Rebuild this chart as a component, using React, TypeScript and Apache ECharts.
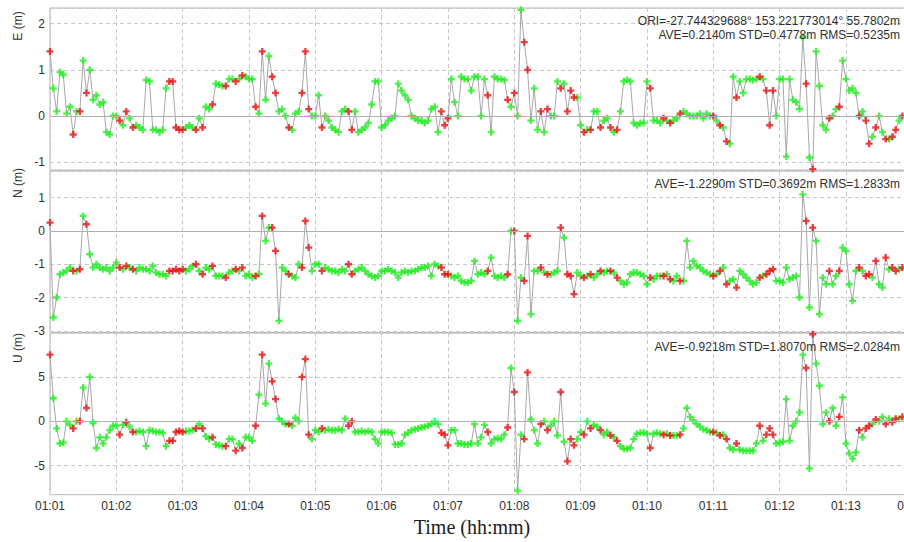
import React, { useEffect, useRef } from "react";
import * as echarts from "echarts";

// Sampling step of the series (seconds since 01:01:00)
const STEP_S = 3;

const X_LABELS = ["01:01", "01:02", "01:03", "01:04", "01:05", "01:06", "01:07", "01:08", "01:09", "01:10", "01:11", "01:12", "01:13", "01:14"];
const E_TICKS = [-1, 0, 1, 2];
const N_TICKS = [-3, -2, -1, 0, 1];
const U_TICKS = [-5, 0, 5];

// East (m)
const E_VALUES = [
  1.4, 0.6, 0.1, 0.95, 0.9, 0.05, 0.2, -0.4, 0.1, 0.1, 1.2, 0.5, 1.0, 0.35, 0.45, 0.25, 0.3, -0.35, -0.4, 0.0,
  0.0, -0.1, -0.2, 0.1, -0.05, -0.25, -0.2, -0.25, -0.3, 0.78, 0.75, -0.3, -0.3, -0.35, -0.3, 0.6, 0.75, 0.75, -0.25, -0.3,
  -0.3, -0.25, -0.2, -0.25, -0.3, -0.05, -0.25, 0.2, 0.15, 0.25, 0.7, 0.68, 0.65, 0.65, 0.8, 0.8, 0.75, 0.8, 0.88, 0.85,
  0.8, 0.8, 0.2, 0.05, 1.4, 0.35, 1.3, 0.85, 0.5, 0.1, 0.15, 0.0, -0.25, -0.3, 0.05, 0.1, 0.5, 1.4, 0.15, 0.0,
  0.0, 0.45, -0.25, 0.0, -0.1, -0.25, -0.3, -0.35, 0.1, 0.15, 0.1, -0.3, 0.1, -0.35, -0.3, -0.25, -0.15, 0.25, 0.75, 0.75,
  -0.25, -0.2, -0.1, -0.05, 0.0, 0.7, 0.55, 0.45, 0.35, 0.0, -0.05, -0.1, -0.1, -0.15, -0.1, 0.15, 0.2, -0.35, 0.1, -0.2,
  -0.05, 0.8, 0.3, 0.0, 0.85, 0.8, 0.8, 0.55, 0.85, 0.85, 0.0, 0.8, 0.45, -0.35, 0.85, 0.8, 0.8, 0.78, 0.35, 0.2,
  0.5, 0.0, 2.3, 1.6, 1.0, -0.1, 0.6, -0.3, 0.1, -0.35, 0.15, 0.0, 0.0, 0.75, 0.6, 0.7, 0.1, 0.55, 0.4, 0.4,
  -0.2, -0.35, -0.3, -0.3, 0.1, 0.1, -0.25, -0.1, -0.05, -0.25, -0.35, -0.3, 0.1, 0.75, 0.78, 0.75, -0.15, -0.2, -0.15, -0.15,
  0.75, 0.6, -0.1, -0.1, -0.15, -0.05, -0.1, -0.15, -0.1, -0.05, 0.05, 0.1, 0.05, 0.0, 0.0, 0.0, 0.05, -0.05, 0.05, 0.0,
  0.0, -0.1, -0.2, -0.25, -0.55, -0.6, 0.85, 0.4, 0.75, 0.5, 0.8, 0.8, 0.78, 0.8, 0.85, 0.8, 0.55, -0.2, 0.55, 0.0,
  0.8, 0.8, -0.88, 0.8, 0.35, 0.3, 0.15, 1.7, 0.7, -0.9, -1.15, 1.4, 0.65, -0.2, -0.3, -0.05, 0.0, 0.15, 0.2, 1.2,
  0.8, 0.55, 0.6, 0.5, 0.0, 0.1, -0.1, -0.6, -0.45, -0.25, 0.0, -0.35, -0.5, -0.5, -0.45, -0.3, -0.1, 0.0,
];

// North (m)
const N_VALUES = [
  0.25, -2.6, -2.0, -1.3, -1.25, -1.2, -1.1, -1.2, -1.2, -1.15, 0.45, 0.2, -0.7, -1.1, -1.0, -1.1, -1.15, -1.1, -1.2, -1.1,
  -0.95, -1.1, -1.15, -1.05, -1.1, -1.15, -1.2, -1.1, -1.15, -1.15, -1.2, -1.05, -1.25, -1.3, -1.3, -1.35, -1.2, -1.2, -1.15, -1.2,
  -1.15, -1.2, -1.15, -1.05, -1.0, -1.2, -1.3, -1.1, -1.15, -1.05, -1.35, -1.35, -1.35, -1.4, -1.25, -1.2, -1.15, -1.2, -1.1, -1.35,
  -1.3, -1.4, -1.35, -1.3, 0.45, -0.3, 0.1, 0.1, -0.6, -2.7, -1.1, -1.2, -1.3, -1.35, -1.4, -1.0, -1.1, 0.3, -0.5, -1.2,
  -1.0, -1.0, -1.2, -1.1, -1.15, -1.2, -1.2, -1.25, -1.15, -1.2, -1.0, -1.3, -1.2, -1.15, -1.1, -1.2, -1.3, -1.35, -1.4, -1.35,
  -1.2, -1.2, -1.15, -1.2, -1.25, -1.4, -1.25, -1.2, -1.25, -1.2, -1.2, -1.15, -1.1, -1.1, -1.05, -1.35, -1.0, -1.05, -1.1, -1.3,
  -1.3, -1.35, -1.4, -1.35, -1.5, -1.55, -1.55, -1.5, -0.9, -1.3, -1.25, -1.3, -1.2, -0.8, -1.35, -1.4, -1.35, -1.4, -1.3, 0.0,
  0.0, -2.7, -1.4, -1.5, -0.15, -2.5, -1.2, -1.2, -1.1, -1.25, -1.3, -1.3, -1.25, -1.2, 0.1, -0.2, -1.3, -1.35, -1.9, -1.25,
  -1.35, -1.4, -1.35, -1.3, -1.4, -1.3, -1.2, -1.25, -1.2, -1.2, -1.25, -1.4, -1.5, -1.6, -1.55, -1.3, -1.25, -1.25, -1.3, -1.35,
  -1.6, -1.4, -1.45, -1.35, -1.35, -1.35, -1.3, -1.45, -1.5, -1.35, -1.5, -1.5, -0.3, -1.1, -0.9, -1.05, -1.1, -1.2, -1.25, -1.3,
  -1.35, -1.3, -1.2, -1.1, -1.6, -1.5, -1.45, -1.7, -1.2, -1.3, -1.4, -1.5, -1.6, -1.55, -1.4, -1.35, -1.3, -1.2, -1.15, -1.5,
  -1.5, -1.55, -1.1, -1.45, -1.4, -1.35, -2.0, 1.1, 0.3, -2.3, 0.1, -0.3, -2.5, -1.4, -1.6, -1.2, -1.6, -1.35, -1.2, -0.5,
  -0.6, -1.6, -2.1, -1.2, -1.1, -1.2, -1.35, -1.3, -1.4, -0.9, -1.6, -1.7, -0.8, -1.15, -1.1, -1.2, -1.15, -1.1,
];

// Up (m)
const U_VALUES = [
  7.5, 2.6, -0.8, -2.5, -2.4, 0.0, -0.4, -0.8, 0.0, 0.0, 3.8, 1.5, 5.0, -0.2, -3.0, -1.8, -2.5, -1.8, -1.0, -0.5,
  -0.5, -1.5, -0.4, -0.1, -0.6, -1.2, -1.2, -1.1, -1.2, -2.8, -1.0, -1.1, -1.2, -1.2, -1.3, -2.8, -2.2, -2.2, -1.2, -1.1,
  -1.2, -1.1, -1.1, -1.0, -0.8, -0.3, -0.8, -1.7, -2.0, -1.8, -2.6, -2.7, -2.8, -2.8, -2.0, -2.0, -3.3, -2.5, -3.0, -1.8,
  -1.8, -2.2, -0.5, 3.0, 7.5, 2.0, 6.5, 4.5, 2.5, 0.3, 0.0, -0.3, -0.3, -0.5, 0.4, 0.0, 5.0, 7.0, -1.5, -2.0,
  -1.0, -1.2, -0.8, -1.0, -0.9, -1.0, -1.0, -0.9, -1.0, 0.3, -0.5, 0.0, -1.2, -1.2, -1.1, -1.2, -1.1, -1.2, -2.0, -2.5,
  -1.2, -1.2, -1.2, -1.3, -2.6, -2.6, -2.5, -1.5, -1.3, -1.0, -0.9, -0.8, -0.7, -0.6, -0.5, -0.3, 0.0, -0.3, -1.3, -1.5,
  -2.7, -1.0, -1.0, -2.5, -2.5, -2.6, -2.6, -2.5, -0.3, -2.5, -1.8, -0.4, -1.2, -2.5, -2.0, -1.9, -2.0, -1.5, -0.7, 6.0,
  3.3, -7.8, -1.5, -2.0, 5.5, 0.2, -1.0, -2.5, -0.3, 0.0, -1.0, -0.5, 0.0, -1.6, 3.3, -2.3, -4.5, -2.0, -2.7, -2.0,
  -1.2, -1.5, 0.0, -0.8, -0.4, -0.6, -1.0, -1.5, -1.2, -1.6, -1.8, -2.2, -2.8, -3.1, -3.1, -3.0, -2.0, -1.4, -1.3, -1.3,
  -1.4, -3.0, -1.4, -1.3, -1.4, -1.5, -1.4, -1.6, -1.6, -1.6, -1.5, -0.8, 1.5, 0.5, 0.1, -0.3, -0.6, -0.9, -1.0, -1.2,
  -1.2, -1.3, -1.6, -1.5, -2.0, -3.0, -3.2, -2.5, -3.2, -3.3, -3.3, -3.3, -3.3, -2.5, -0.5, -2.2, -1.5, -0.8, -1.5, -2.5,
  -2.4, -2.3, 2.5, -2.2, -0.5, 0.0, 1.0, 7.5, 6.0, -5.3, 9.8, 6.5, 4.0, -0.3, 1.0, 0.0, 1.5, -0.5, 0.5, 2.7,
  -2.5, -3.6, -4.2, -3.5, -1.0, -1.8, -0.8, -0.5, -0.3, 0.2, 0.0, 0.5, -0.3, 0.3, -0.1, 0.3, 0.3, 0.5,
];

// Solution quality per epoch: 1 = fix (green), 2 = float (red)
const QUALITY = [
  2, 1, 1, 1, 1, 1, 1, 2, 1, 2, 1, 2, 1, 1, 1, 1, 1, 1, 1, 1,
  1, 2, 1, 2, 1, 2, 1, 1, 1, 1, 1, 1, 1, 1, 1, 1, 2, 2, 2, 2,
  2, 1, 1, 1, 2, 1, 2, 1, 1, 2, 1, 1, 1, 2, 1, 1, 2, 1, 2, 1,
  1, 1, 2, 1, 2, 1, 1, 2, 2, 1, 1, 1, 2, 1, 1, 1, 2, 2, 2, 1,
  1, 1, 2, 1, 1, 1, 1, 1, 1, 1, 2, 2, 1, 1, 1, 1, 1, 1, 1, 1,
  1, 1, 1, 1, 1, 1, 1, 1, 1, 1, 1, 1, 1, 1, 1, 1, 1, 1, 2, 2,
  2, 1, 1, 1, 1, 1, 1, 1, 1, 1, 1, 1, 2, 1, 1, 1, 1, 1, 2, 1,
  2, 1, 1, 2, 2, 1, 1, 1, 2, 1, 2, 1, 1, 1, 2, 1, 2, 2, 2, 1,
  1, 2, 1, 2, 1, 1, 2, 1, 1, 2, 1, 2, 1, 1, 1, 1, 1, 1, 1, 1,
  1, 2, 1, 1, 1, 2, 1, 2, 1, 1, 2, 1, 1, 1, 1, 1, 1, 1, 1, 1,
  2, 1, 2, 1, 2, 1, 1, 2, 1, 1, 1, 1, 1, 1, 2, 1, 2, 2, 2, 1,
  1, 1, 1, 1, 1, 1, 1, 1, 2, 1, 2, 1, 1, 1, 1, 2, 1, 1, 2, 1,
  1, 1, 1, 1, 2, 1, 2, 2, 1, 2, 1, 1, 2, 1, 2, 2, 1, 2,
];

const ORI_TEXT = "ORI=-27.744329688° 153.221773014° 55.7802m";
const E_STATS = "AVE=0.2140m STD=0.4778m RMS=0.5235m";
const N_STATS = "AVE=-1.2290m STD=0.3692m RMS=1.2833m";
const U_STATS = "AVE=-0.9218m STD=1.8070m RMS=2.0284m";

const FONT = '"Liberation Sans", Tahoma, sans-serif';
const TEXT_COLOR = "#303030";
const PLUS = "path://M2,0H4V2H6V4H4V6H2V4H0V2H2Z";

const X_MAX = 787;

const PANELS = [
  { name: "E (m)", values: E_VALUES, ticks: E_TICKS, min: -1.17, max: 2.34, step: 1, top: 8, height: 162, titleY: 26, stats: E_STATS, statsY: 35 },
  { name: "N (m)", values: N_VALUES, ticks: N_TICKS, min: -3.05, max: 1.8, step: 1, top: 171, height: 161.5, titleY: 183, stats: N_STATS, statsY: 184 },
  { name: "U (m)", values: U_VALUES, ticks: U_TICKS, min: -8.26, max: 9.94, step: 5, top: 333, height: 161.7, titleY: 348, stats: U_STATS, statsY: 347 },
];

export default function App() {
  const ref = useRef<HTMLDivElement>(null);

  useEffect(() => {
    document.body.style.margin = "0";
    if (!ref.current) return;
    const chart = echarts.init(ref.current, undefined, { renderer: "svg" });

    const dashed = { type: [4, 3] as any, color: "#c8c8c8", width: 1 };

    const grid = PANELS.map((p) => ({
      left: 50,
      top: p.top,
      width: 870,
      height: p.height,
      containLabel: false,
      outerBoundsMode: "none",
      show: true,
      borderColor: "#b4b4b4",
      borderWidth: 1,
      backgroundColor: "#ffffff",
    }));

    const xAxis = PANELS.map((p, i) => ({
      type: "value",
      gridIndex: i,
      min: 0,
      max: X_MAX,
      interval: 60,
      axisLine: { show: false },
      axisTick: { show: false },
      splitLine: { show: true, lineStyle: dashed },
      axisLabel: {
        show: i === PANELS.length - 1,
        margin: 5,
        fontSize: 12,
        fontFamily: FONT,
        color: TEXT_COLOR,
        showMaxLabel: false,
        hideOverlap: false,
        formatter: (v: number) => {
          const k = Math.round(v / 60);
          return Math.abs(v - k * 60) < 1e-6 && k < X_LABELS.length ? X_LABELS[k] : "";
        },
      },
    }));

    const yAxis = PANELS.map((p, i) => ({
      type: "value",
      gridIndex: i,
      min: p.min,
      max: p.max,
      minInterval: p.step,
      maxInterval: p.step,
      splitNumber: 4,
      axisLine: { show: false },
      axisTick: { show: false },
      splitLine: { show: true, lineStyle: dashed },
      axisLabel: {
        margin: 5,
        fontSize: 12,
        fontFamily: FONT,
        color: TEXT_COLOR,
        showMinLabel: false,
        showMaxLabel: false,
        formatter: (v: number) => (p.ticks.some((t) => Math.abs(t - v) < 1e-6) ? String(Math.round(v)) : ""),
      },
    }));

    const series: any[] = [];
    PANELS.forEach((p, i) => {
      const pts = p.values.map((v, k) => [k * STEP_S, v]);
      series.push({
        type: "line",
        xAxisIndex: i,
        yAxisIndex: i,
        data: pts,
        showSymbol: false,
        symbol: "none",
        lineStyle: { color: "#a8a8a8", width: 1 },
        z: 1,
        silent: true,
        markLine: {
          silent: true,
          symbol: "none",
          label: { show: false },
          lineStyle: { type: "solid", color: "#b0b0b0", width: 1 },
          data: [{ yAxis: 0 }],
        },
      });
      series.push({
        type: "scatter",
        xAxisIndex: i,
        yAxisIndex: i,
        data: pts.filter((_, k) => QUALITY[k] === 1),
        symbol: PLUS,
        symbolSize: 7,
        itemStyle: { color: "#22ee22" },
        z: 2,
        silent: true,
      });
      series.push({
        type: "scatter",
        xAxisIndex: i,
        yAxisIndex: i,
        data: pts.filter((_, k) => QUALITY[k] === 2),
        symbol: PLUS,
        symbolSize: 7,
        itemStyle: { color: "#e81010" },
        z: 3,
        silent: true,
      });
    });

    const textStyle = { fontSize: 12, fontFamily: FONT, fill: TEXT_COLOR };
    const graphic: any[] = [];
    PANELS.forEach((p) => {
      graphic.push({
        type: "text",
        x: 18,
        y: p.titleY,
        rotation: Math.PI / 2,
        style: { ...textStyle, text: p.name, textAlign: "center", textVerticalAlign: "middle" },
        z: 10,
      });
      graphic.push({
        type: "text",
        x: 900,
        y: p.statsY,
        style: { ...textStyle, text: p.stats, textAlign: "right", textVerticalAlign: "middle" },
        z: 10,
      });
    });
    graphic.push({
      type: "text",
      x: 900,
      y: 21,
      style: { ...textStyle, text: ORI_TEXT, textAlign: "right", textVerticalAlign: "middle" },
      z: 10,
    });
    graphic.push({
      type: "text",
      x: 472,
      y: 527,
      style: {
        text: "Time (hh:mm)",
        fontSize: 20,
        fontFamily: '"Liberation Serif", "Times New Roman", serif',
        fill: "#202020",
        textAlign: "center",
        textVerticalAlign: "middle",
      },
      z: 10,
    });

    chart.setOption({
      animation: false,
      backgroundColor: "#ffffff",
      grid,
      xAxis,
      yAxis,
      series,
      graphic,
    });

    return () => chart.dispose();
  }, []);

  return (
    <div
      ref={ref}
      style={{ position: "fixed", left: 0, top: 0, width: 904, height: 542, background: "#ffffff", overflow: "hidden" }}
    />
  );
}
